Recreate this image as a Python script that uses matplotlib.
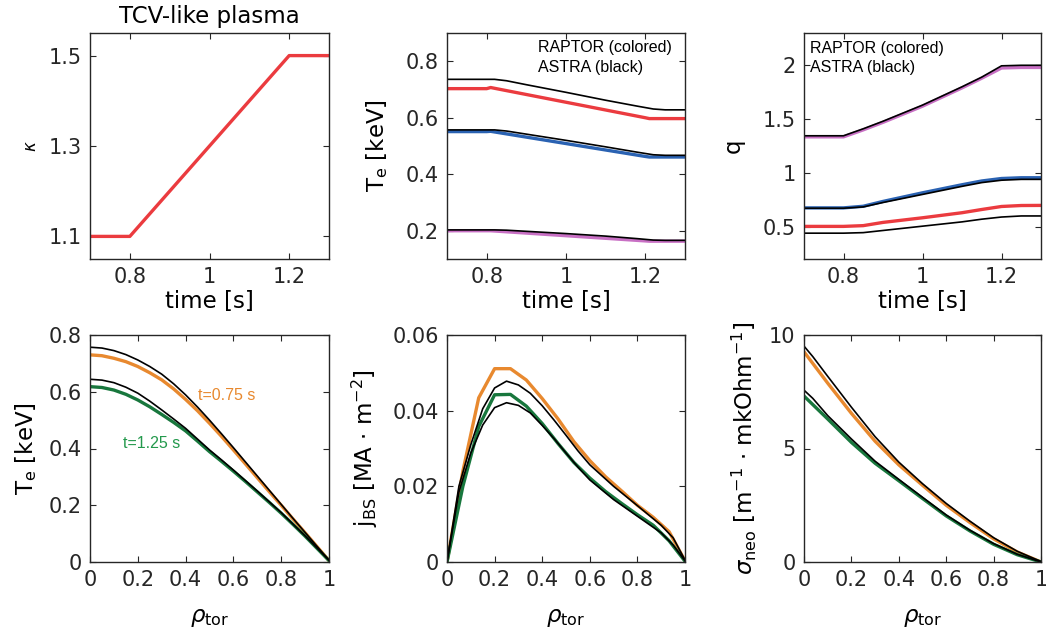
import matplotlib
matplotlib.use("Agg")
import matplotlib.pyplot as plt

plt.rcParams['font.family'] = ['DejaVu Sans']
plt.rcParams['mathtext.fontset'] = 'dejavusans'

# ---------------- data ----------------
# top-left: elongation vs time
t_kappa = [0.7, 0.8, 1.2, 1.3]
kappa = [1.1, 1.1, 1.5, 1.5]

# top-middle: Te vs time (RAPTOR colored, ASTRA black)
t_te_r = [0.7, 0.8, 0.81, 1.2, 1.21, 1.3]
te_r_red = [0.703, 0.703, 0.707, 0.600, 0.597, 0.597]
te_r_blue = [0.551, 0.551, 0.552, 0.463, 0.461, 0.461]
te_r_mag = [0.200, 0.200, 0.200, 0.164, 0.163, 0.163]
t_te_a = [0.7, 0.82, 0.85, 0.9, 1.0, 1.1, 1.18, 1.22, 1.25, 1.3]
te_a_1 = [0.736, 0.736, 0.731, 0.717, 0.690, 0.662, 0.641, 0.631, 0.628, 0.628]
te_a_2 = [0.557, 0.557, 0.553, 0.542, 0.520, 0.497, 0.478, 0.469, 0.467, 0.467]
te_a_3 = [0.203, 0.203, 0.202, 0.198, 0.190, 0.181, 0.172, 0.167, 0.166, 0.166]

# top-right: q vs time
t_q = [0.7, 0.8, 0.85, 0.9, 1.0, 1.1, 1.15, 1.2, 1.25, 1.3]
q_r_mag = [1.335, 1.335, 1.40, 1.47, 1.62, 1.79, 1.88, 1.975, 1.98, 1.98]
q_a_1 = [1.345, 1.345, 1.41, 1.48, 1.63, 1.80, 1.89, 1.995, 2.0, 2.0]
q_r_blue = [0.675, 0.675, 0.69, 0.735, 0.815, 0.89, 0.925, 0.948, 0.955, 0.955]
q_a_2 = [0.672, 0.672, 0.684, 0.725, 0.80, 0.875, 0.91, 0.932, 0.94, 0.94]
q_r_red = [0.503, 0.503, 0.51, 0.54, 0.583, 0.63, 0.66, 0.688, 0.697, 0.698]
q_a_3 = [0.44, 0.44, 0.445, 0.465, 0.505, 0.545, 0.57, 0.59, 0.60, 0.60]

# bottom-left: Te profiles
rho_te = [0.0, 0.05, 0.1, 0.15, 0.2, 0.25, 0.3, 0.35, 0.4, 0.45, 0.5,
          0.55, 0.6, 0.65, 0.7, 0.75, 0.8, 0.85, 0.9, 0.95, 1.0]
te_r_075 = [0.730, 0.727, 0.718, 0.706, 0.689, 0.667, 0.642, 0.610, 0.573, 0.533, 0.489,
            0.443, 0.395, 0.346, 0.297, 0.248, 0.200, 0.151, 0.103, 0.054, 0.005]
te_a_075 = [0.757, 0.754, 0.745, 0.731, 0.712, 0.689, 0.662, 0.628, 0.589, 0.546, 0.500,
            0.452, 0.403, 0.353, 0.303, 0.253, 0.203, 0.153, 0.104, 0.055, 0.006]
te_r_125 = [0.618, 0.615, 0.606, 0.591, 0.571, 0.547, 0.520, 0.492, 0.462, 0.426, 0.389,
            0.355, 0.320, 0.284, 0.247, 0.210, 0.172, 0.132, 0.091, 0.048, 0.005]
te_a_125 = [0.644, 0.641, 0.632, 0.616, 0.595, 0.567, 0.536, 0.504, 0.471, 0.433, 0.395,
            0.360, 0.324, 0.287, 0.250, 0.212, 0.174, 0.133, 0.092, 0.049, 0.006]

# bottom-middle: bootstrap current profiles
rho_r = [0.0, 0.0667, 0.1333, 0.2, 0.2667, 0.3333, 0.4, 0.4667, 0.5333, 0.6,
         0.6667, 0.7333, 0.8, 0.8667, 0.9333, 1.0]
jbs_r_075 = [0.0, 0.024, 0.0434, 0.0511, 0.0511, 0.0481, 0.0432, 0.0378, 0.0318, 0.0268,
             0.0225, 0.0188, 0.0150, 0.0118, 0.0080, 0.0003]
jbs_r_125 = [0.0, 0.020, 0.0358, 0.0442, 0.0443, 0.0412, 0.0366, 0.0313, 0.0263, 0.0222,
             0.0186, 0.0155, 0.0125, 0.0097, 0.0056, 0.0002]
rho_a = [0.0, 0.05, 0.1, 0.15, 0.2, 0.25, 0.3, 0.35, 0.4, 0.45, 0.5, 0.55, 0.6,
         0.7, 0.8, 0.9, 0.95, 1.0]
jbs_a_075 = [0.0, 0.0200, 0.0310, 0.0405, 0.0460, 0.0478, 0.0468, 0.0446, 0.0413, 0.0375,
             0.0335, 0.0294, 0.0257, 0.0200, 0.0149, 0.0097, 0.0064, 0.0005]
jbs_a_125 = [0.0, 0.0185, 0.0288, 0.0362, 0.0408, 0.0421, 0.0414, 0.0394, 0.0361, 0.0326,
             0.0288, 0.0251, 0.0217, 0.0165, 0.0121, 0.0077, 0.0045, 0.0003]

# bottom-right: neoclassical conductivity profiles
rho_s = [0.0, 0.1, 0.2, 0.3, 0.4, 0.5, 0.6, 0.7, 0.8, 0.9, 1.0]
sig_r_075 = [9.26, 7.88, 6.55, 5.32, 4.28, 3.38, 2.50, 1.74, 1.02, 0.44, 0.0]
sig_r_125 = [7.31, 6.30, 5.27, 4.35, 3.58, 2.80, 2.03, 1.37, 0.78, 0.32, 0.0]
rho_sa = [0.0, 0.037, 0.1, 0.2, 0.3, 0.4, 0.5, 0.6, 0.7, 0.8, 0.9, 1.0]
sig_a_075 = [9.51, 9.05, 8.18, 6.82, 5.52, 4.40, 3.45, 2.58, 1.80, 1.07, 0.47, 0.02]
sig_a_125 = [7.57, 7.21, 6.45, 5.42, 4.44, 3.64, 2.85, 2.07, 1.40, 0.81, 0.34, 0.0]

# ---------------- style ----------------
RED = '#EB3B3F'
BLUE = '#2A62B2'
MAG = '#C870C4'
ORANGE = '#E8892F'
GREEN = '#18773D'
GREEN_TXT = '#23994C'
LW_C = 2.4
LW_K = 1.2
TICK_FS = 15
LAB_FS = 16.5
ANN_FS = 11.5

fig = plt.figure(figsize=(10.46, 6.42), dpi=100)
W, H = 1046.0, 642.0

def make_ax(x0, x1, y0, y1):
    return fig.add_axes([x0 / W, 1 - y1 / H, (x1 - x0) / W, (y1 - y0) / H])

def style(ax):
    ax.tick_params(direction='in', top=True, right=True, length=4, width=0.8,
                   labelsize=TICK_FS, colors='#262626', pad=6)
    for s in ax.spines.values():
        s.set_linewidth(1.0)
        s.set_color('#262626')

ax1 = make_ax(90, 329, 33, 259)
ax2 = make_ax(447, 685, 33, 259)
ax3 = make_ax(804, 1041, 33, 259)
ax4 = make_ax(90, 329, 335, 562)
ax5 = make_ax(447, 685, 335, 562)
ax6 = make_ax(804, 1041, 335, 562)

# --- ax1
ax1.plot(t_kappa, kappa, color=RED, lw=LW_C)
ax1.set_xlim(0.7, 1.3)
ax1.set_ylim(1.05, 1.55)
ax1.set_xticks([0.8, 1.0, 1.2])
ax1.set_xticklabels(['0.8', '1', '1.2'])
ax1.set_yticks([1.1, 1.3, 1.5])
ax1.set_xlabel('time [s]', fontsize=LAB_FS, labelpad=2)
ax1.set_ylabel(r'$\kappa$', fontsize=12, labelpad=6)
ax1.set_title('TCV-like plasma', fontsize=LAB_FS, pad=7)
style(ax1)

# --- ax2
ax2.plot(t_te_r, te_r_red, color=RED, lw=LW_C)
ax2.plot(t_te_r, te_r_blue, color=BLUE, lw=LW_C)
ax2.plot(t_te_r, te_r_mag, color=MAG, lw=LW_C)
ax2.plot(t_te_a, te_a_1, color='k', lw=LW_K)
ax2.plot(t_te_a, te_a_2, color='k', lw=LW_K)
ax2.plot(t_te_a, te_a_3, color='k', lw=LW_K)
ax2.set_xlim(0.7, 1.3)
ax2.set_ylim(0.1, 0.9)
ax2.set_xticks([0.8, 1.0, 1.2])
ax2.set_xticklabels(['0.8', '1', '1.2'])
ax2.set_yticks([0.2, 0.4, 0.6, 0.8])
ax2.set_xlabel('time [s]', fontsize=LAB_FS, labelpad=2)
ax2.set_ylabel(r'T$_\mathrm{e}$ [keV]', fontsize=LAB_FS, labelpad=11)
ax2.text(0.929, 0.847, 'RAPTOR (colored)', fontsize=ANN_FS, family='Liberation Sans',
         va='center', ha='left')
ax2.text(0.929, 0.777, 'ASTRA (black)', fontsize=ANN_FS, family='Liberation Sans',
         va='center', ha='left')
style(ax2)

# --- ax3
ax3.plot(t_q, q_r_mag, color=MAG, lw=LW_C)
ax3.plot(t_q, q_r_blue, color=BLUE, lw=LW_C)
ax3.plot(t_q, q_r_red, color=RED, lw=LW_C)
ax3.plot(t_q, q_a_1, color='k', lw=LW_K)
ax3.plot(t_q, q_a_2, color='k', lw=LW_K)
ax3.plot(t_q, q_a_3, color='k', lw=LW_K)
ax3.set_xlim(0.7, 1.3)
ax3.set_ylim(0.2, 2.3)
ax3.set_xticks([0.8, 1.0, 1.2])
ax3.set_xticklabels(['0.8', '1', '1.2'])
ax3.set_yticks([0.5, 1.0, 1.5, 2.0])
ax3.set_yticklabels(['0.5', '1', '1.5', '2'])
ax3.set_xlabel('time [s]', fontsize=LAB_FS, labelpad=2)
ax3.set_ylabel('q', fontsize=LAB_FS, labelpad=13)
ax3.text(0.715, 2.16, 'RAPTOR (colored)', fontsize=ANN_FS, family='Liberation Sans',
         va='center', ha='left')
ax3.text(0.715, 1.975, 'ASTRA (black)', fontsize=ANN_FS, family='Liberation Sans',
         va='center', ha='left')
style(ax3)

# --- ax4
ax4.plot(rho_te, te_r_075, color=ORANGE, lw=LW_C)
ax4.plot(rho_te, te_r_125, color=GREEN, lw=LW_C)
ax4.plot(rho_te, te_a_075, color='k', lw=LW_K)
ax4.plot(rho_te, te_a_125, color='k', lw=LW_K)
ax4.set_xlim(0, 1)
ax4.set_ylim(0, 0.8)
ax4.set_xticks([0, 0.2, 0.4, 0.6, 0.8, 1.0])
ax4.set_xticklabels(['0', '0.2', '0.4', '0.6', '0.8', '1'])
ax4.set_yticks([0, 0.2, 0.4, 0.6, 0.8])
ax4.set_yticklabels(['0', '0.2', '0.4', '0.6', '0.8'])
ax4.set_xlabel(r'$\rho_\mathrm{tor}$', fontsize=LAB_FS, labelpad=11)
ax4.set_ylabel(r'T$_\mathrm{e}$ [keV]', fontsize=LAB_FS, labelpad=7)
ax4.text(0.453, 0.587, 't=0.75 s', color=ORANGE, fontsize=ANN_FS,
         family='Liberation Sans', va='center', ha='left')
ax4.text(0.137, 0.418, 't=1.25 s', color=GREEN_TXT, fontsize=ANN_FS,
         family='Liberation Sans', va='center', ha='left')
style(ax4)

# --- ax5
ax5.plot(rho_r, jbs_r_075, color=ORANGE, lw=LW_C)
ax5.plot(rho_r, jbs_r_125, color=GREEN, lw=LW_C)
ax5.plot(rho_a, jbs_a_075, color='k', lw=LW_K)
ax5.plot(rho_a, jbs_a_125, color='k', lw=LW_K)
ax5.set_xlim(0, 1)
ax5.set_ylim(0, 0.06)
ax5.set_xticks([0, 0.2, 0.4, 0.6, 0.8, 1.0])
ax5.set_xticklabels(['0', '0.2', '0.4', '0.6', '0.8', '1'])
ax5.set_yticks([0, 0.02, 0.04, 0.06])
ax5.set_yticklabels(['0', '0.02', '0.04', '0.06'])
ax5.set_xlabel(r'$\rho_\mathrm{tor}$', fontsize=LAB_FS, labelpad=11)
ax5.set_ylabel(r'j$_\mathrm{BS}$ [MA $\cdot$ m$^{-2}$]', fontsize=LAB_FS, labelpad=9)
style(ax5)

# --- ax6
ax6.plot(rho_s, sig_r_075, color=ORANGE, lw=LW_C)
ax6.plot(rho_s, sig_r_125, color=GREEN, lw=LW_C)
ax6.plot(rho_sa, sig_a_075, color='k', lw=LW_K)
ax6.plot(rho_sa, sig_a_125, color='k', lw=LW_K)
ax6.set_xlim(0, 1)
ax6.set_ylim(0, 10)
ax6.set_xticks([0, 0.2, 0.4, 0.6, 0.8, 1.0])
ax6.set_xticklabels(['0', '0.2', '0.4', '0.6', '0.8', '1'])
ax6.set_yticks([0, 5, 10])
ax6.set_xlabel(r'$\rho_\mathrm{tor}$', fontsize=LAB_FS, labelpad=11)
ax6.set_ylabel(r'$\sigma_\mathrm{neo}$ [m$^{-1}$ $\cdot$ mkOhm$^{-1}$]', fontsize=LAB_FS, labelpad=7)
style(ax6)

fig.savefig('out.png', dpi=100)
